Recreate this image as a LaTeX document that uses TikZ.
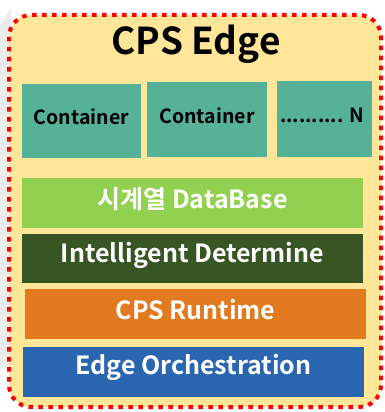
\documentclass[tikz,border=0pt]{standalone}
\usepackage{fontspec}
\setmainfont{Noto Sans CJK KR}[BoldFont={* Bold}]
\definecolor{bgyellow}{HTML}{FFE699}
\definecolor{teal1}{HTML}{55B197}
\definecolor{dbgreen}{HTML}{92D050}
\definecolor{darkgreen}{HTML}{375623}
\definecolor{rtorange}{HTML}{E27A1F}
\definecolor{edblue}{HTML}{2A66B0}
\definecolor{dotred}{HTML}{FF0000}
\tikzset{
  cont/.style={fill=teal1, draw=none, inner sep=0pt, font=\bfseries\fontsize{19.5}{22}\selectfont, text=black},
  layer/.style={draw=none, inner sep=0pt, font=\bfseries\fontsize{25}{28}\selectfont, text=white},
}
\begin{document}
\begin{tikzpicture}[x=1pt,y=-1pt]
\useasboundingbox (0,0) rectangle (385,412);
\fill[gray!15] (0,25) -- (11,8) -- (11,363) -- (0,370) -- cycle;
\draw[fill=bgyellow, draw=dotred, line width=4pt, dash pattern=on 4.5pt off 5.5pt, rounded corners=22pt] (9,15) rectangle (381,407);
\node[font=\bfseries\fontsize{37}{42}\selectfont] (title) at (196,44) {CPS Edge};
\path[cont] (22,84) rectangle (141,158);
\node[cont] (c1) at (81.5,117) {Container};
\path[cont] (147,82) rectangle (267,157);
\node[cont] (c2) at (207,116) {Container};
\path[cont] (277,81) rectangle (372,157);
\node[cont] (c3) at (322,115) {.......... N};
\path[fill=dbgreen] (22,178) rectangle (363,228);
\node[layer] (db) at (192.5,199) {시계열 DataBase};
\path[fill=darkgreen] (22,234) rectangle (363,283);
\node[layer] (id) at (192.5,255) {Intelligent Determine};
\path[fill=rtorange] (25,289) rectangle (366,339);
\node[layer] (rt) at (195.5,310) {CPS Runtime};
\path[fill=edblue] (23,347) rectangle (364,397);
\node[layer] (eo) at (193.5,367) {Edge Orchestration};
\end{tikzpicture}
\end{document}
